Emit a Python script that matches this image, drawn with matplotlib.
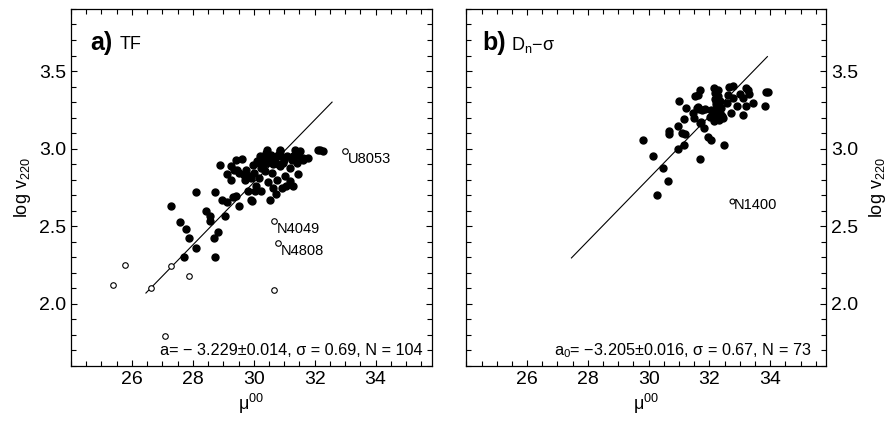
import matplotlib.pyplot as plt
from matplotlib.ticker import MultipleLocator

plt.rcParams['font.family'] = ['Liberation Sans', 'DejaVu Sans']
plt.rcParams['mathtext.fontset'] = 'custom'
plt.rcParams['mathtext.rm'] = 'Liberation Sans'
plt.rcParams['mathtext.it'] = 'Liberation Sans'
plt.rcParams['mathtext.default'] = 'regular'

# TF sample: distance modulus vs log rotation velocity
tf_mu = [27.28, 27.58, 27.78, 27.89, 27.72, 28.09, 28.12, 28.44, 28.55, 28.57,
         28.70, 28.74, 28.72, 28.82, 28.90, 28.96, 29.07, 29.12, 29.12, 29.25,
         29.24, 29.32, 29.43, 29.43, 29.51, 29.46, 29.53, 29.62, 29.68, 29.75,
         29.86, 29.92, 29.93, 29.99, 30.02, 29.80, 30.08, 30.03, 30.23, 30.17,
         30.25, 30.17, 30.30, 30.36, 30.41, 30.41, 30.47, 30.47, 30.52, 30.54,
         30.61, 30.63, 30.44, 30.69, 30.74, 30.76, 30.81, 30.91, 30.87, 30.87,
         30.94, 31.02, 31.07, 30.85, 30.96, 31.09, 31.18, 31.18, 31.27, 31.29,
         31.35, 31.42, 31.46, 31.51, 31.29, 31.60, 31.46, 31.62, 31.78, 32.11,
         32.19, 32.26, 29.35, 29.70, 30.12, 30.30, 30.55, 30.62, 30.80, 31.00,
         30.20, 30.35, 30.58, 29.90]
tf_logv = [2.629, 2.526, 2.483, 2.425, 2.303, 2.360, 2.719, 2.601, 2.564, 2.532,
           2.423, 2.719, 2.300, 2.466, 2.895, 2.672, 2.569, 2.654, 2.837, 2.891,
           2.800, 2.689, 2.929, 2.693, 2.633, 2.861, 2.843, 2.933, 2.833, 2.865,
           2.822, 2.672, 2.663, 2.897, 2.843, 2.725, 2.757, 2.725, 2.730, 2.908,
           2.876, 2.811, 2.933, 2.854, 2.972, 2.908, 2.783, 2.951, 2.929, 2.672,
           2.843, 2.747, 2.994, 2.940, 2.710, 2.796, 2.961, 2.951, 2.886, 2.983,
           2.747, 2.822, 2.758, 2.994, 2.908, 2.951, 2.790, 2.876, 2.929, 2.758,
           2.994, 2.908, 2.951, 2.983, 2.951, 2.929, 2.839, 2.940, 2.940, 2.994,
           2.994, 2.983, 2.860, 2.800, 2.920, 2.890, 2.960, 2.900, 2.900, 2.930,
           2.950, 2.940, 2.920, 2.810]
tf_out_mu = [25.39, 25.78, 26.63, 27.28, 27.88, 27.10, 30.65, 30.67, 30.81, 33.01]
tf_out_logv = [2.120, 2.253, 2.101, 2.242, 2.182, 1.792, 2.090, 2.536, 2.393, 2.987]
tf_names = {7: 'N4049', 8: 'N4808', 9: 'U8053'}
tf_fit_mu = [26.46, 32.57]
tf_fit_logv = [2.07, 3.30]

# Dn-sigma sample
dn_mu = [29.82, 30.15, 30.28, 30.49, 30.65, 30.67, 30.67, 30.97, 30.97, 31.00,
         31.09, 31.17, 31.17, 31.21, 31.22, 31.46, 31.50, 31.54, 31.61, 31.63,
         31.68, 31.65, 31.70, 31.70, 31.74, 31.77, 31.83, 31.85, 31.96, 32.02,
         32.04, 32.04, 32.10, 32.16, 32.16, 32.18, 32.18, 32.21, 32.24, 32.27,
         32.29, 32.30, 32.32, 32.34, 32.36, 32.40, 32.45, 32.49, 32.57, 32.62,
         32.64, 32.70, 32.77, 32.79, 32.91, 33.01, 33.10, 33.12, 33.21, 33.22,
         33.26, 33.31, 33.44, 33.84, 33.86, 33.92, 32.31, 32.26, 32.38, 31.58,
         32.12, 32.33, 32.22]
dn_logv = [3.058, 2.955, 2.704, 2.876, 2.790, 3.112, 3.097, 2.998, 3.148, 3.305,
           3.101, 3.024, 3.193, 3.092, 3.262, 3.230, 3.197, 3.337, 3.269, 3.343,
           3.380, 3.255, 2.933, 3.165, 3.170, 3.251, 3.133, 3.255, 3.075, 3.204,
           3.251, 3.058, 3.219, 3.391, 3.176, 3.360, 3.318, 3.290, 3.251, 3.197,
           3.380, 3.341, 3.273, 3.230, 3.305, 3.208, 3.197, 3.021, 3.294, 3.348,
           3.396, 3.230, 3.403, 3.327, 3.277, 3.352, 3.326, 3.219, 3.391, 3.273,
           3.380, 3.352, 3.294, 3.277, 3.365, 3.363, 3.187, 3.240, 3.260, 3.265,
           3.220, 3.290, 3.310]
dn_out_mu = [32.75]
dn_out_logv = [2.663]
dn_fit_mu = [27.46, 33.91]
dn_fit_logv = [2.296, 3.593]

fig = plt.figure(figsize=(8.94, 4.23), dpi=100)
ax1 = fig.add_axes([0.0794, 0.1348, 0.4038, 0.844])
ax2 = fig.add_axes([0.5216, 0.1348, 0.4027, 0.844])

for ax in (ax1, ax2):
    ax.set_xlim(24.0, 35.85)
    ax.set_ylim(1.6, 3.9)
    ax.xaxis.set_major_locator(MultipleLocator(2))
    ax.xaxis.set_minor_locator(MultipleLocator(0.5))
    ax.yaxis.set_major_locator(MultipleLocator(0.5))
    ax.yaxis.set_minor_locator(MultipleLocator(0.1))
    ax.tick_params(which='both', direction='in', top=True, right=True,
                   labelsize=14, width=0.8)
    ax.tick_params(which='major', length=4.5)
    ax.tick_params(which='minor', length=3.5)
    ax.set_xticks([26, 28, 30, 32, 34])
    ax.set_xlabel(r'μ$^{00}$', fontsize=13, labelpad=3)
    for s in ax.spines.values():
        s.set_linewidth(0.9)

# panel a
ax1.plot(tf_fit_mu, tf_fit_logv, color='black', lw=0.8)
ax1.plot(tf_mu, tf_logv, 'o', color='black', ms=5)
ax1.plot(tf_out_mu, tf_out_logv, 'o', mfc='white', mec='black', ms=4, mew=0.8)
for i, name in tf_names.items():
    ax1.text(tf_out_mu[i] + 0.08, tf_out_logv[i] - 0.01, name,
             fontsize=10.5, va='top', ha='left')
ax1.set_ylabel(r'log v$_{220}$', fontsize=13)
ax1.text(0.053, 0.905, 'a)', transform=ax1.transAxes, fontsize=18,
         fontweight='bold', va='center')
ax1.text(0.136, 0.9, 'TF', transform=ax1.transAxes, fontsize=13, va='center')
ax1.text(0.975, 0.043, 'a= − 3.229±0.014, σ = 0.69, N = 104',
         transform=ax1.transAxes, fontsize=11.7, ha='right', va='center')

# panel b
ax2.plot(dn_fit_mu, dn_fit_logv, color='black', lw=0.8)
ax2.plot(dn_mu, dn_logv, 'o', color='black', ms=5)
ax2.plot(dn_out_mu, dn_out_logv, 'o', mfc='white', mec='black', ms=3.5, mew=0.8)
ax2.text(dn_out_mu[0] + 0.06, dn_out_logv[0] + 0.02, 'N1400',
         fontsize=10.5, va='top', ha='left')
ax2.tick_params(which='both', labelleft=False, labelright=True)
ax2.yaxis.set_label_position('right')
ax2.set_ylabel(r'log v$_{220}$', fontsize=13, labelpad=6)
ax2.text(0.045, 0.905, 'b)', transform=ax2.transAxes, fontsize=18,
         fontweight='bold', va='center')
ax2.text(0.125, 0.9, r'D$_{n}$−σ', transform=ax2.transAxes, fontsize=13,
         va='center')
ax2.text(0.96, 0.043, r'a$_0$= −3.205±0.016, σ = 0.67, N = 73',
         transform=ax2.transAxes, fontsize=11.7, ha='right', va='center')

fig.savefig('out.png', dpi=100)
